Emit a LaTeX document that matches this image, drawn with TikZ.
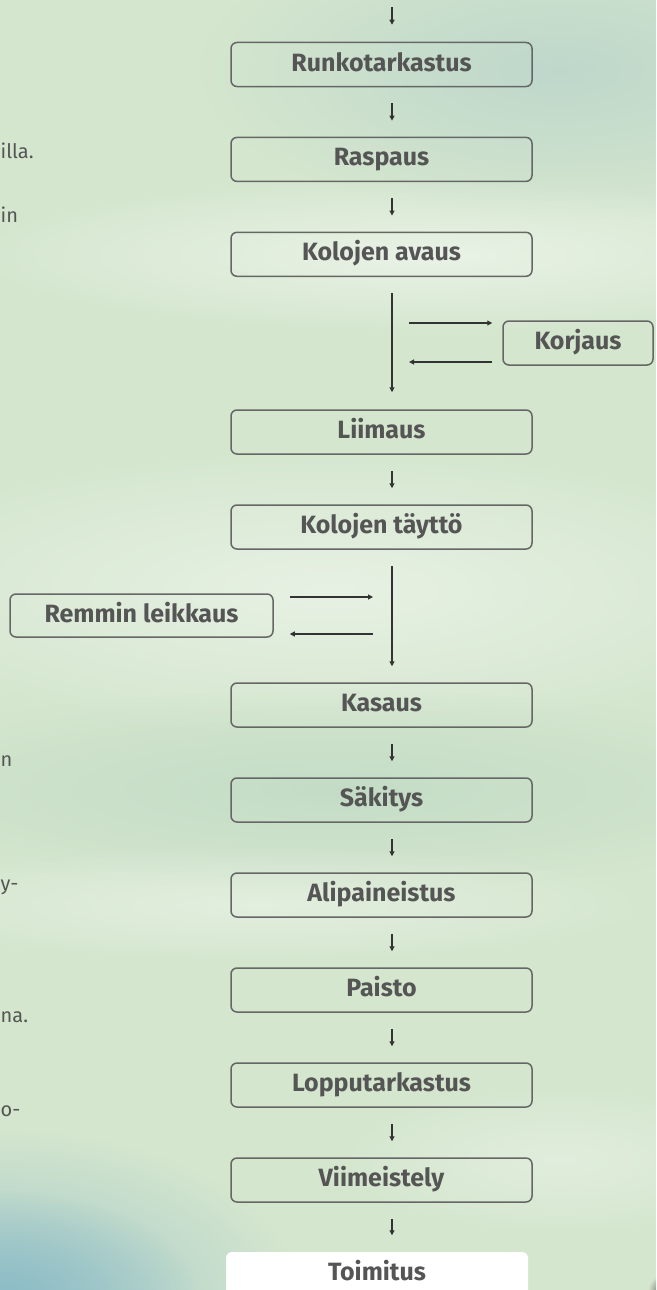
\documentclass[tikz,border=0pt]{standalone}
\usepackage{fontspec}
\setmainfont{Fira Sans}
\usetikzlibrary{arrows.meta,fadings}
\definecolor{bg}{HTML}{D4E6CE}
\definecolor{mint}{HTML}{BCD6CB}
\definecolor{greenband}{HTML}{C2DBC5}
\definecolor{teal}{HTML}{8CBCC7}
\definecolor{boxline}{HTML}{666666}
\definecolor{txt}{HTML}{555555}
\definecolor{arrc}{HTML}{333333}
\tikzfading[name=softglow, inner color=transparent!0, outer color=transparent!100]
\tikzset{
  stepbox/.style={draw=boxline, line width=1.5pt, rounded corners=6pt,
    minimum width=301pt, minimum height=44pt, inner sep=0pt, text=txt,
    text height=18pt, text depth=5pt,
    font=\bfseries\fontsize{25}{25}\selectfont},
  arr/.style={draw=arrc, line width=1.1pt, -{Triangle[length=5pt,width=5pt]}},
  frag/.style={text=txt, font=\fontsize{20}{20}\selectfont, inner sep=0pt, anchor=base west},
  glow/.style={path fading=softglow},
}
\begin{document}
\begin{tikzpicture}[x=1pt,y=-1pt]
\useasboundingbox (0,0) rectangle (656,1290);
\clip (0,0) rectangle (656,1290);
% background
\fill[bg] (0,0) rectangle (656,1290);
\fill[mint, opacity=0.9, glow] (560,70) ellipse [x radius=360, y radius=150];
\fill[white, opacity=0.5, glow] (430,255) ellipse [x radius=480, y radius=80];
\fill[white, opacity=0.45, glow] (330,590) ellipse [x radius=520, y radius=150];
\fill[greenband, opacity=0.9, glow] (330,790) ellipse [x radius=520, y radius=100];
\fill[white, opacity=0.35, glow] (260,905) ellipse [x radius=420, y radius=60];
\fill[white, opacity=0.3, glow] (560,1160) ellipse [x radius=240, y radius=80];
\fill[teal!80!bg, opacity=0.9, glow] (0,1300) ellipse [x radius=300, y radius=170];
\fill[teal, glow] (0,1300) ellipse [x radius=200, y radius=110];
\fill[black!65, opacity=0.8, glow] (660,1292) ellipse [x radius=12, y radius=16];

% main column
\coordinate (ax) at (392,0);
\coordinate (top) at (392,7);
\node[stepbox] (b1) at (381.5,64.5) {Runkotarkastus};
\node[stepbox] (b2) at (381.5,159.4) {Raspaus};
\node[stepbox] (b3) at (381.5,254.3) {Kolojen avaus};
\node[stepbox] (b4) at (381.5,432) {Liimaus};
\node[stepbox] (b5) at (381.5,527) {Kolojen täyttö};
\node[stepbox] (b6) at (381.5,705) {Kasaus};
\node[stepbox] (b7) at (381.5,800) {Säkitys};
\node[stepbox] (b8) at (381.5,895) {Alipaineistus};
\node[stepbox] (b9) at (381.5,990) {Paisto};
\node[stepbox] (b10) at (381.5,1085) {Lopputarkastus};
\node[stepbox] (b11) at (381.5,1180) {Viimeistely};
\node[stepbox, draw=none, fill=white, minimum width=302pt] (b12) at (377,1274) {Toimitus};

\node[stepbox, minimum width=150pt] (korj) at (578,343) {Korjaus};
\node[stepbox, minimum width=263pt, minimum height=43pt] (remm) at (141.5,615.5) {Remmin leikkaus};

% arrows
\draw[arr, shorten >=17pt] (top) -- (top |- b1.north);
\foreach \a/\b in {b1/b2, b2/b3, b4/b5, b6/b7, b7/b8, b8/b9, b9/b10, b10/b11, b11/b12}
  \draw[arr, shorten <=16pt, shorten >=16pt] (ax |- \a.south) -- (ax |- \b.north);
\draw[arr, shorten <=16pt, shorten >=17pt] (ax |- b3.south) -- (ax |- b4.north);
\draw[arr, shorten <=16pt, shorten >=16pt] (ax |- b5.south) -- (ax |- b6.north);

\coordinate (k1) at (409,323);
\coordinate (k2) at (409,362);
\draw[arr, shorten >=10pt] (k1) -- (k1 -| korj.west);
\draw[arr, shorten <=10pt] (k2 -| korj.west) -- (k2);

\coordinate (r1) at (373,597);
\coordinate (r2) at (373,634);
\draw[arr, shorten <=16pt] (r1 -| remm.east) -- (r1);
\draw[arr, shorten >=16pt] (r2) -- (r2 -| remm.east);

% text fragments at the left edge
\node[frag] (f1) at (0.5,158) {illa.};
\node[frag] (f2) at (0.5,222) {in};
\node[frag] (f3) at (0.5,766) {n};
\node[frag] (f4) at (0.5,890) {y-};
\node[frag] (f5) at (0.5,1022) {na.};
\node[frag] (f6) at (0.5,1116) {o-};
\end{tikzpicture}
\end{document}
